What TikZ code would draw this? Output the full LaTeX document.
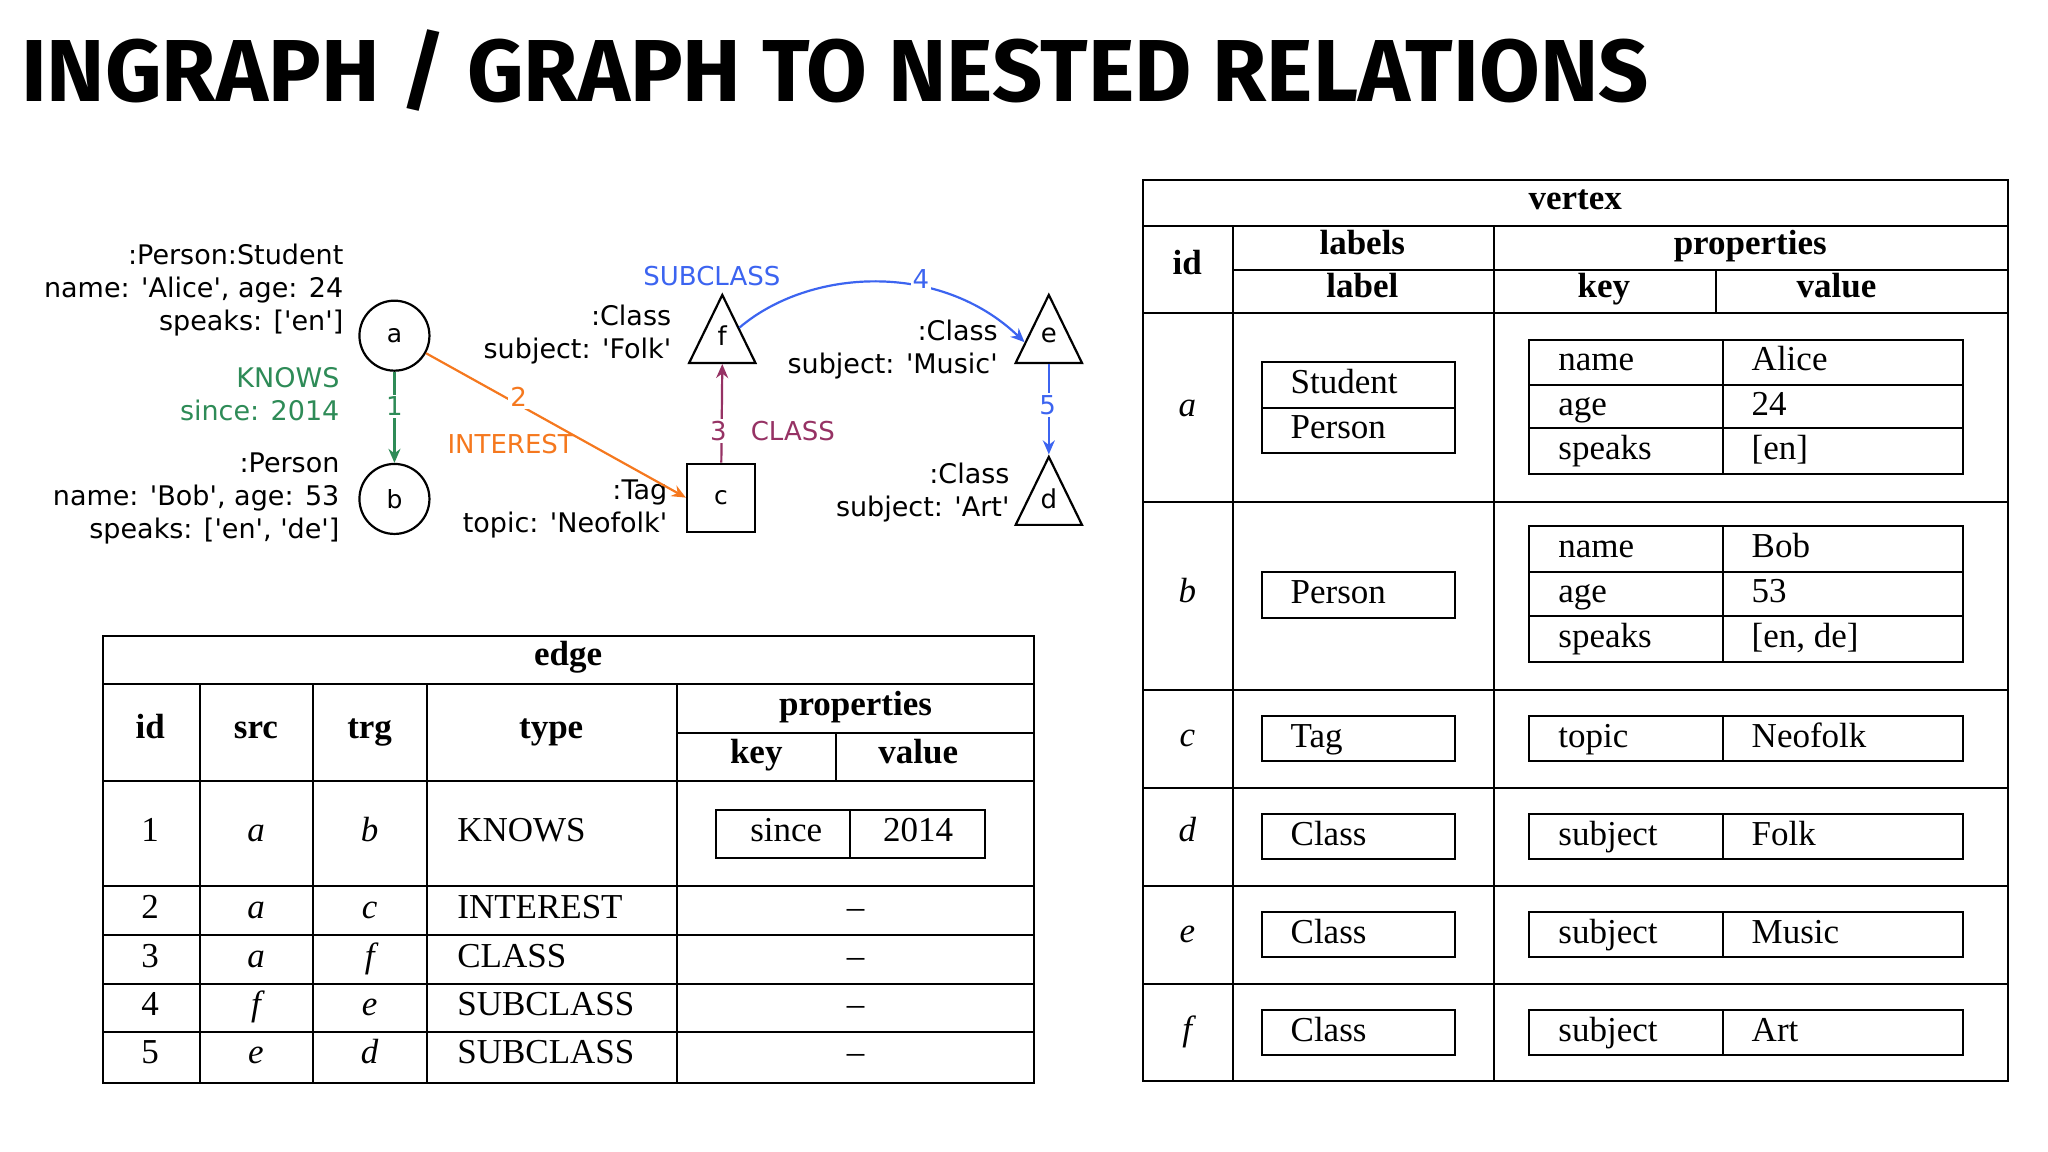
\documentclass[tikz,border=0pt]{standalone}
\usepackage{fontspec}
\setmainfont{Liberation Serif}
\newfontfamily\gfont{DejaVu Sans}
\newfontfamily\tfont{Fira Sans}
\usetikzlibrary{shapes.geometric,arrows.meta}
\definecolor{kgreen}{RGB}{46,139,87}
\definecolor{iorange}{RGB}{245,120,30}
\definecolor{cpurple}{RGB}{150,50,100}
\definecolor{sblue}{RGB}{60,100,240}
\begin{document}
\begin{tikzpicture}[x=1.3061pt,y=-1.3061pt,
  gtxt/.style={font=\gfont\fontsize{27}{33}\selectfont,align=right,anchor=east,inner sep=0},
  circ/.style={draw,circle,line width=2.2pt,minimum size=70pt,inner sep=0,font=\gfont\fontsize{25}{30}\selectfont},
  sq/.style={draw,line width=2.2pt,minimum size=68pt,inner sep=0,font=\gfont\fontsize{25}{30}\selectfont},
  tri/.style={draw,isosceles triangle,isosceles triangle apex angle=52,shape border rotate=90,line width=2.2pt,minimum height=68pt,inner sep=0},
  elab/.style={font=\gfont\fontsize{26}{30}\selectfont,inner sep=2pt},
  tl/.style={line width=2pt},
  tt/.style={font=\fontsize{35}{40}\selectfont,inner sep=0,text height=24pt,text depth=7pt},
  th/.style={font=\bfseries\fontsize{35}{40}\selectfont,inner sep=0,text height=24pt,text depth=7pt},
  ttl/.style={tt,anchor=west},
  arr/.style={line width=2.2pt,-{Stealth[length=14pt,width=12pt]}}]
\useasboundingbox (0,0) rectangle (1568,882);
\node[anchor=west,inner sep=0,font=\tfont\bfseries\fontsize{88}{95}\selectfont] (title) at (16,54) {INGRAPH / GRAPH TO NESTED RELATIONS};
% graph
\node[circ] (a) at (302,257) {a};
\node[circ] (b) at (302,382) {b};
\node[sq] (c) at (552,381) {c};
\node[tri] (f) at (553,262) {};
\node[tri] (e) at (803,262) {};
\node[tri] (d) at (803,386) {};
\node[elab] (fl) at (553,257) {f};
\node[elab] (el) at (803,257) {e};
\node[elab] (dl) at (803,382) {d};
\node[gtxt] (at) at (263,222) {:Person:Student\\name: 'Alice', age: 24\\speaks: ['en']};
\node[gtxt] (bt) at (260,382) {:Person\\name: 'Bob', age: 53\\speaks: ['en', 'de']};
\node[gtxt] (ct) at (511,390) {:Tag\\topic: 'Neofolk'};
\node[gtxt] (ft) at (514,256) {:Class\\subject: 'Folk'};
\node[gtxt] (et) at (764,268) {:Class\\subject: 'Music'};
\node[gtxt] (dt) at (773,377) {:Class\\subject: 'Art'};
\draw[arr,kgreen] (a) -- (b);
\node[elab,fill=white,text=kgreen] (n1) at (302,311) {1};
\node[gtxt,text=kgreen] (kn) at (260,302) {KNOWS\\since: 2014};
\draw[arr,iorange] (a) -- (c.west);
\node[elab,fill=white,text=iorange] (n2) at (397,304) {2};
\node[elab,text=iorange] (il) at (391,340) {INTEREST};
\draw[arr,cpurple] (c) -- (f.south);
\node[elab,fill=white,text=cpurple] (n3) at (550,330) {3};
\node[elab,text=cpurple] (cl) at (607,330) {CLASS};
\draw[arr,sblue] (f) .. controls (620,205) and (720,200) .. (e.west);
\node[elab,fill=white,text=sblue] (n4) at (705,214) {4};
\node[elab,text=sblue] (sl) at (545,211) {SUBCLASS};
\draw[arr,sblue] (e.south) -- (d.north);
\node[elab,fill=white,text=sblue] (n5) at (802,310) {5};
% edge table
\draw[tl] (79,487) rectangle (792,829);
\draw[tl] (79,524)--(792,524) (79,598)--(792,598) (79,678)--(792,678) (79,716)--(792,716) (79,753)--(792,753) (79,790)--(792,790);
\draw[tl] (518,561)--(792,561) (640,561)--(640,598);
\foreach \x in {153,240,327,518} \draw[tl] (\x,524)--(\x,829);
\node[th] (eh) at (435,503) {edge};
\node[th] (e1) at (115,559) {id};
\node[th] (e2) at (196,559) {src};
\node[th] (e3) at (283,559) {trg};
\node[th] (e4) at (422,559) {type};
\node[th] (e5) at (655,541) {properties};
\node[th] (e6) at (579,578) {key};
\node[th] (e7) at (703,578) {value};
\foreach \y/\i/\s/\t/\ty in {638/1/a/b/KNOWS,697/2/a/c/INTEREST,734/3/a/f/CLASS,771/4/f/e/SUBCLASS,808/5/e/d/SUBCLASS}{
  \node[tt] at (115,\y) {\i};
  \node[tt] at (196,\y) {\itshape \s};
  \node[tt] at (283,\y) {\itshape \t};
  \node[ttl] at (350,\y) {\ty};
}
\foreach \y in {697,734,771,808} \node[tt] at (655,\y) {–};
\draw[tl] (548,620) rectangle (754,657) (651,620)--(651,657);
\node[tt] (sk) at (602,638) {since};
\node[tt] (sv) at (703,638) {2014};
% vertex table
\draw[tl] (875,138) rectangle (1537,828);
\draw[tl] (875,173)--(1537,173) (875,240)--(1537,240) (875,384)--(1537,384) (875,528)--(1537,528) (875,603)--(1537,603) (875,678)--(1537,678) (875,753)--(1537,753);
\draw[tl] (944,207)--(1537,207) (1314,207)--(1314,240);
\draw[tl] (944,173)--(944,828) (1144,173)--(1144,828);
\node[th] (vh) at (1206,154) {vertex};
\node[th] (v1) at (909,204) {id};
\node[th] (v2) at (1043,188) {labels};
\node[th] (v3) at (1043,221) {label};
\node[th] (v4) at (1340,188) {properties};
\node[th] (v5) at (1228,221) {key};
\node[th] (v6) at (1406,221) {value};
\foreach \y/\i in {312/a,455/b,565/c,638/d,715/e,790/f} \node[tt] at (909,\y) {\itshape \i};
% label boxes
\foreach \ya/\yb/\l in {277/312/Student,312/347/Person,438/473/Person,548/583/Tag,623/658/Class,698/733/Class,773/808/Class}{
  \draw[tl] (966,\ya) rectangle (1114,\yb);
  \node[ttl] at (988,{(\ya+\yb)/2}) {\l};
}
% property boxes
\foreach \ya/\yb/\k/\v in {260/295/name/Alice,295/328/age/24,328/363/speaks/[en],403/438/name/Bob,438/472/age/53,472/507/speaks/{[en, de]},548/583/topic/Neofolk,623/658/subject/Folk,698/733/subject/Music,773/808/subject/Art}{
  \draw[tl] (1171,\ya) rectangle (1503,\yb) (1319,\ya)--(1319,\yb);
  \node[ttl] at (1193,{(\ya+\yb)/2}) {\k};
  \node[ttl] at (1341,{(\ya+\yb)/2}) {\v};
}
\end{tikzpicture}
\end{document}
